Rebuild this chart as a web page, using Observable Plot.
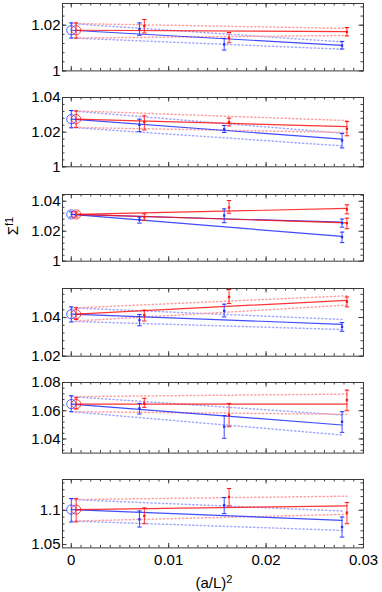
<!DOCTYPE html>
<html><head><meta charset="utf-8">
<script src="https://cdn.jsdelivr.net/npm/d3@7"></script>
<script src="https://cdn.jsdelivr.net/npm/@observablehq/plot@0.6"></script>
<style>
body{margin:0;background:#fff;}
#wrap{position:relative;width:382px;height:592px;font-family:"Liberation Sans",Arial,sans-serif;}
.panel{position:absolute;left:0;}
</style></head><body><div id="wrap"></div>
<script>
// x positions (a/L)^2 ; index 0 = continuum extrapolation
const xBlue = [0, 0.0070, 0.0157, 0.0278];
const xRed = [0.0005, 0.0075, 0.0162, 0.0283];
const xTickLabels = [0, 0.01, 0.02, 0.03];

// Panel 1
const blue1 = [1.0178, 1.0183, 1.0116, 1.0111];
const blue1Lo = [1.0144, 1.0156, 1.0091, 1.0096];
const blue1Hi = [1.0210, 1.0210, 1.0142, 1.0129];
const red1 = [1.0178, 1.0197, 1.0144, 1.0171];
const red1Lo = [1.0144, 1.0166, 1.0123, 1.0153];
const red1Hi = [1.0210, 1.0225, 1.0168, 1.0190];
const blueFit1 = [1.0178, 1.0112];
const redFit1 = [1.0178, 1.0172];
const blueBand1 = [[1.0207, 1.0127], [1.0144, 1.0095]];
const redBand1 = [[1.0207, 1.0186], [1.0144, 1.0155]];

// Panel 2
const blue2 = [1.0275, 1.0242, 1.0217, 1.0152];
const blue2Lo = [1.0225, 1.0203, 1.0198, 1.0109];
const blue2Hi = [1.0325, 1.0275, 1.0238, 1.0192];
const red2 = [1.0275, 1.0258, 1.0258, 1.0219];
const red2Lo = [1.0228, 1.0213, 1.0236, 1.0179];
const red2Hi = [1.0322, 1.0294, 1.0281, 1.0261];
const blueFit2 = [1.0275, 1.0160];
const redFit2 = [1.0275, 1.0232];
const blueBand2 = [[1.0323, 1.0194], [1.0227, 1.0121]];
const redBand2 = [[1.0323, 1.0267], [1.0227, 1.0198]];

// Panel 3 (two fits per colour)
const blue3 = [1.0312, 1.0277, 1.0305, 1.0254];
const blue3Lo = [1.0295, 1.0254, 1.0257, 1.0227];
const blue3Hi = [1.0329, 1.0294, 1.0349, 1.0281];
const red3 = [1.0312, 1.0294, 1.0358, 1.0345];
const red3Lo = [1.0295, 1.0272, 1.0320, 1.0316];
const red3Hi = [1.0329, 1.0316, 1.0405, 1.0376];
const blue3b = [1.0161], blue3bLo = [1.0124], blue3bHi = [1.0194];
const red3b = [1.0254], red3bLo = [1.0217], red3bHi = [1.0287];
const blueFit3 = [1.0312, 1.0260];
const blueFit3b = [1.0312, 1.0165];
const redFit3 = [1.0312, 1.0352];
const redFit3b = [1.0312, 1.0256];

// Panel 4
const blue4 = [1.0417, 1.0386, 1.0434, 1.0352];
const blue4Lo = [1.0377, 1.0357, 1.0403, 1.0329];
const blue4Hi = [1.0455, 1.0415, 1.0469, 1.0374];
const red4 = [1.0417, 1.0413, 1.0506, 1.0481];
const red4Lo = [1.0390, 1.0382, 1.0472, 1.0455];
const red4Hi = [1.0450, 1.0438, 1.0545, 1.0506];
const blueFit4 = [1.0417, 1.0365];
const redFit4 = [1.0417, 1.0489];
const blueBand4 = [[1.0450, 1.0390], [1.0380, 1.0338]];
const redBand4 = [[1.0450, 1.0512], [1.0382, 1.0464]];

// Panel 5
const blue5 = [1.0647, 1.0617, 1.0487, 1.0522];
const blue5Lo = [1.0593, 1.0577, 1.0405, 1.0447];
const blue5Hi = [1.0706, 1.0652, 1.0565, 1.0593];
const red5 = [1.0647, 1.0652, 1.0570, 1.0676];
const red5Lo = [1.0612, 1.0624, 1.0487, 1.0600];
const red5Hi = [1.0692, 1.0688, 1.0652, 1.0746];
const blueFit5 = [1.0647, 1.0499];
const redFit5 = [1.0647, 1.0647];
const blueBand5 = [[1.0700, 1.0570], [1.0593, 1.0428]];
const redBand5 = [[1.0700, 1.0718], [1.0593, 1.0575]];

// Panel 6
const blue6 = [1.1010, 1.0868, 1.1074, 1.0755];
const blue6Lo = [1.0828, 1.0755, 1.0951, 1.0608];
const blue6Hi = [1.1172, 1.0990, 1.1187, 1.0902];
const red6 = [1.1010, 1.0917, 1.1196, 1.0966];
const red6Lo = [1.0830, 1.0804, 1.1063, 1.0804];
const red6Hi = [1.1170, 1.1034, 1.1319, 1.1113];
const blueFit6 = [1.1010, 1.0853];
const redFit6 = [1.1010, 1.1063];
const blueBand6 = [[1.1157, 1.0990], [1.0843, 1.0706]];
const redBand6 = [[1.1157, 1.1206], [1.0843, 1.0941]];

// y axes
const yDomains = [[1, 1.0295], [1, 1.04], [1, 1.0445], [1.02, 1.055], [1.03, 1.08], [1.045, 1.145]];
const yTickLabels = [[1, 1.02], [1, 1.02, 1.04], [1, 1.02, 1.04], [1.02, 1.04], [1.04, 1.06, 1.08], [1.05, 1.1]];
const yMinorStep = [0.004, 0.004, 0.004, 0.004, 0.004, 0.01];

// layout
const frames = [[3.3, 70.7], [96.7, 166], [194.3, 261], [288.3, 356], [381.7, 452.3], [479.3, 547.7]];
const W = 382, ML = 62, MR = 19, MT = 10;
const frameW = W - ML - MR;
const BLUE = "#1f2dff", RED = "#ff1010", BLUE_L = "#a3a8ff", RED_L = "#ffa0a0", INK = "#3a3a3a";

const panels = [
  {blue: [blue1, blue1Lo, blue1Hi], red: [red1, red1Lo, red1Hi], fits: [[blueFit1, "b"], [redFit1, "r"]], bands: [[blueBand1, "b"], [redBand1, "r"]], extra: []},
  {blue: [blue2, blue2Lo, blue2Hi], red: [red2, red2Lo, red2Hi], fits: [[blueFit2, "b"], [redFit2, "r"]], bands: [[blueBand2, "b"], [redBand2, "r"]], extra: []},
  {blue: [blue3, blue3Lo, blue3Hi], red: [red3, red3Lo, red3Hi], fits: [[blueFit3, "b"], [blueFit3b, "b"], [redFit3, "r"], [redFit3b, "r"]], bands: [],
   extra: [[blue3b, blue3bLo, blue3bHi, "b"], [red3b, red3bLo, red3bHi, "r"]]},
  {blue: [blue4, blue4Lo, blue4Hi], red: [red4, red4Lo, red4Hi], fits: [[blueFit4, "b"], [redFit4, "r"]], bands: [[blueBand4, "b"], [redBand4, "r"]], extra: []},
  {blue: [blue5, blue5Lo, blue5Hi], red: [red5, red5Lo, red5Hi], fits: [[blueFit5, "b"], [redFit5, "r"]], bands: [[blueBand5, "b"], [redBand5, "r"]], extra: []},
  {blue: [blue6, blue6Lo, blue6Hi], red: [red6, red6Lo, red6Hi], fits: [[blueFit6, "b"], [redFit6, "r"]], bands: [[blueBand6, "b"], [redBand6, "r"]], extra: []}
];

const capSymbol = {draw(ctx, size) { const r = Math.sqrt(size / Math.PI); ctx.moveTo(-r, 0); ctx.lineTo(r, 0); }};
const fmt = d => String(+d.toFixed(4));
const xEnd = c => c === "b" ? xBlue[3] : xRed[3];
const xStart = c => c === "b" ? xBlue[0] : xRed[0];
const col = c => c === "b" ? BLUE : RED;
const colL = c => c === "b" ? BLUE_L : RED_L;

function stepTicks(d0, d1, step) {
  const out = [];
  for (let k = Math.ceil(d0 / step - 1e-9); k * step <= d1 + 1e-9; k++) out.push(+(k * step).toFixed(6));
  return out;
}

const wrap = document.getElementById("wrap");
panels.forEach((p, i) => {
  const last = i === panels.length - 1;
  const [f0, f1] = frames[i];
  const fh = f1 - f0;
  const MB = last ? 48 : 10;
  const dom = yDomains[i];
  const yMinor = stepTicks(dom[0], dom[1], yMinorStep[i]);
  const yMajor = yTickLabels[i];
  const xMinor = stepTicks(0, 0.03, 0.001);
  const marks = [];

  // dotted error bands
  for (const [band, c] of p.bands) {
    for (const edge of band) {
      marks.push(Plot.line([{x: xStart(c), y: edge[0]}, {x: xEnd(c), y: edge[1]}],
        {x: "x", y: "y", stroke: colL(c), strokeWidth: 1.5, strokeDasharray: "1.2,2.6"}));
    }
  }
  // fit lines
  for (const [fit, c] of p.fits) {
    marks.push(Plot.line([{x: xStart(c), y: fit[0]}, {x: xEnd(c), y: fit[1]}],
      {x: "x", y: "y", stroke: col(c), strokeWidth: 1.2, strokeOpacity: 0.85}));
  }
  // points with error bars
  const series = [
    {xs: xBlue, v: p.blue, c: "b"},
    {xs: xRed, v: p.red, c: "r"}
  ];
  for (const e of p.extra) series.push({xs: [xEnd(e[3])], v: [e[0], e[1], e[2]], c: e[3], noCircle: true});
  for (const s of series) {
    const pts = s.v[0].map((y, k) => ({x: s.xs[k], y, lo: s.v[1][k], hi: s.v[2][k], ext: !s.noCircle && k === 0}));
    const caps = pts.flatMap(d => [{x: d.x, y: d.lo}, {x: d.x, y: d.hi}]);
    marks.push(Plot.ruleX(pts, {x: "x", y1: "lo", y2: "hi", stroke: col(s.c), strokeWidth: 1, strokeOpacity: 0.85}));
    marks.push(Plot.dot(caps, {x: "x", y: "y", symbol: capSymbol, r: 2.2, stroke: col(s.c), strokeWidth: 1}));
    marks.push(Plot.dot(pts.filter(d => !d.ext), {x: "x", y: "y", symbol: "square", r: 1.3, fill: col(s.c), stroke: "none"}));
    marks.push(Plot.dot(pts.filter(d => d.ext), {x: "x", y: "y", r: 4.6, stroke: col(s.c), strokeOpacity: 0.75, strokeWidth: 1, fill: "none"}));
  }
  // frame and inward ticks
  marks.push(Plot.frame({stroke: INK, strokeWidth: 1}));
  marks.push(Plot.ruleY(yMinor, {y: d => d, insetRight: frameW - 2.5, stroke: INK}));
  marks.push(Plot.ruleY(yMinor, {y: d => d, insetLeft: frameW - 2.5, stroke: INK}));
  marks.push(Plot.ruleY(yMajor, {y: d => d, insetRight: frameW - 4.5, stroke: INK}));
  marks.push(Plot.ruleY(yMajor, {y: d => d, insetLeft: frameW - 4.5, stroke: INK}));
  marks.push(Plot.ruleX(xMinor, {x: d => d, insetTop: fh - 2.5, stroke: INK}));
  marks.push(Plot.ruleX(xMinor, {x: d => d, insetBottom: fh - 2.5, stroke: INK}));
  marks.push(Plot.ruleX(xTickLabels, {x: d => d, insetTop: fh - 4.5, stroke: INK}));
  marks.push(Plot.ruleX(xTickLabels, {x: d => d, insetBottom: fh - 4.5, stroke: INK}));
  marks.push(Plot.axisY(yMajor, {tickSize: 0, tickPadding: 2, tickFormat: fmt, label: null}));
  if (last) marks.push(Plot.axisX(xTickLabels, {tickSize: 0, tickPadding: 6, tickFormat: fmt, label: null}));

  const svg = Plot.plot({
    width: W, height: fh + MT + MB,
    marginLeft: ML, marginRight: MR, marginTop: MT, marginBottom: MB,
    x: {domain: [-0.0009, 0.03], axis: last ? undefined : null, label: null},
    y: {domain: dom, label: null},
    style: {background: "transparent", overflow: "visible", fontSize: "15px", fontFamily: "'Liberation Sans', Arial, sans-serif", color: "#000"},
    marks
  });
  const div = document.createElement("div");
  div.className = "panel";
  div.style.top = (f0 - MT) + "px";
  div.appendChild(svg);
  wrap.appendChild(div);
});

// axis titles
const ov = d3.select(wrap).append("svg").attr("width", W).attr("height", 592)
  .style("position", "absolute").style("left", 0).style("top", 0).style("overflow", "visible")
  .attr("font-family", "'Liberation Sans', Arial, sans-serif");
const yl = ov.append("text").attr("transform", "translate(18,226) rotate(-90)").attr("text-anchor", "middle").attr("font-size", 15);
yl.append("tspan").text("Σ");
yl.append("tspan").attr("dy", "-0.45em").attr("font-size", 11).text("f1");
const xl = ov.append("text").attr("x", 214).attr("y", 588).attr("text-anchor", "middle").attr("font-size", 15);
xl.append("tspan").text("(a/L)");
xl.append("tspan").attr("dy", "-0.45em").attr("font-size", 11).text("2");
</script></body></html>
